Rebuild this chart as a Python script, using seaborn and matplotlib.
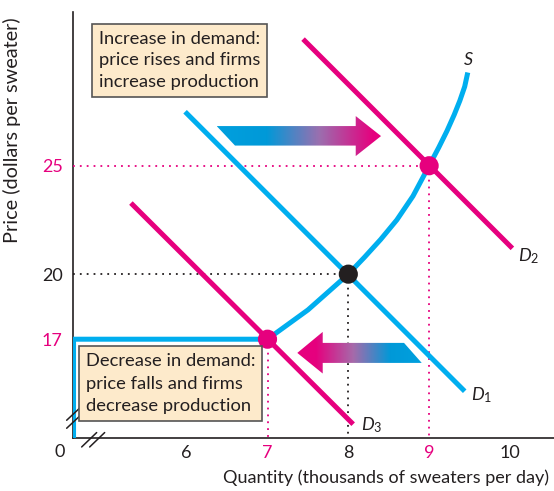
import numpy as np
import matplotlib
matplotlib.use("Agg")
import matplotlib.pyplot as plt
import seaborn as sns
from matplotlib.patches import Polygon
from matplotlib.colors import LinearSegmentedColormap

# ---- data ----
# quantity axis is broken: 4.6 stands in for the origin (quantity 0)
supply_q = [4.6, 4.6, 7.0, 7.5, 8.0, 8.2, 8.4, 8.6, 8.8, 9.0, 9.12, 9.22, 9.31, 9.38, 9.44, 9.478]
supply_p = [12.43, 17.0, 17.0, 18.35, 20.0, 20.78, 21.6, 22.5, 23.6, 25.0, 25.85, 26.6, 27.35,
            28.0, 28.65, 29.3]

d1_q = [5.98, 9.44]
d1_p = [27.49, 14.60]
d2_q = [7.44, 10.03]
d2_p = [30.84, 21.19]
d3_q = [5.31, 8.06]
d3_p = [23.28, 13.08]

eq_q = [8, 9, 7]
eq_p = [20, 25, 17]

x_ticks = [6, 7, 8, 9, 10]
y_ticks = [17, 20, 25]

CYAN = "#00AEEF"
MAGENTA = "#E6007E"
BLACK = "#231F20"
BOX = "#FDEACB"

sns.set_style("white")
plt.rcParams["font.family"] = ["Lato", "DejaVu Sans"]
plt.rcParams["mathtext.fontset"] = "custom"
plt.rcParams["mathtext.it"] = "Lato:italic"
plt.rcParams["mathtext.rm"] = "Lato"

fig = plt.figure(figsize=(5.54, 4.91), dpi=100)
ax = fig.add_axes([73.3 / 554, (491 - 438.3) / 491, (554 - 73.3) / 554, (438.3 - 12) / 491])
XMIN, XMAX, YMIN, YMAX = 4.597, 10.545, 12.43, 32.09


def px(x, y):
    # reference pixel -> data coords (for decorations only)
    return 6 + (x - 186.7) / 80.8, 20 + (274 - y) / 21.67


# dotted guide lines
dot = dict(lw=1.3, linestyle=(0, (1, 2.8)), zorder=1)
ax.plot([XMIN, 8], [20, 20], color=BLACK, **dot)
ax.plot([8, 8], [20, YMIN], color=BLACK, **dot)
ax.plot([XMIN, 9], [25, 25], color=MAGENTA, **dot)
ax.plot([9, 9], [25, YMIN], color=MAGENTA, **dot)
ax.plot([7, 7], [17, YMIN], color=MAGENTA, **dot)


# gradient arrows
def grad_arrow(pts, stops):
    pts = np.array([px(*p) for p in pts])
    poly = Polygon(pts, closed=True, facecolor="none", edgecolor="none")
    ax.add_patch(poly)
    cmap = LinearSegmentedColormap.from_list("g", stops)
    x0, x1 = pts[:, 0].min(), pts[:, 0].max()
    y0, y1 = pts[:, 1].min(), pts[:, 1].max()
    im = ax.imshow(np.linspace(0, 1, 256)[None, :], cmap=cmap, extent=[x0, x1, y0, y1],
                   aspect="auto", origin="lower", zorder=2, interpolation="bilinear")
    im.set_clip_path(poly)


grad_arrow([(216.7, 126), (355.7, 126), (355.7, 116), (381, 136), (355.7, 156),
            (355.7, 145.5), (235, 145.5)],
           [(0, "#00A0DE"), (0.3, "#0099D8"), (0.62, "#9B6FAF"), (0.95, MAGENTA), (1, MAGENTA)])
grad_arrow([(297.3, 352.7), (322.7, 331.7), (322.7, 342.7), (404, 342.7), (421.7, 362.7),
            (322.7, 362.7), (322.7, 373.3)],
           [(0, MAGENTA), (0.15, MAGENTA), (0.45, "#A66AAA"), (0.75, "#0099D8"), (1, "#00A0DE")])

# curves
lw = 3.6
line = dict(lw=lw, sort=False, estimator=None, solid_capstyle="butt", solid_joinstyle="round",
            zorder=3)
sns.lineplot(x=supply_q, y=supply_p, ax=ax, color=CYAN, **line)
sns.lineplot(x=d1_q, y=d1_p, ax=ax, color=CYAN, **line)
sns.lineplot(x=d2_q, y=d2_p, ax=ax, color=MAGENTA, **line)
sns.lineplot(x=d3_q, y=d3_p, ax=ax, color=MAGENTA, **line)
sns.scatterplot(x=eq_q, y=eq_p, ax=ax, hue=["a", "b", "c"],
                palette=[BLACK, MAGENTA, MAGENTA], s=190, linewidth=0, legend=False, zorder=4)

# curve labels
lab = dict(fontsize=13, color=BLACK, ha="center", va="center")
ax.text(*px(468, 59), "$S$", **lab)
ax.text(*px(529, 256), r"$D_\mathrm{2}$", **lab)
ax.text(*px(482, 395), r"$D_\mathrm{1}$", **lab)
ax.text(*px(372, 425), r"$D_\mathrm{3}$", **lab)

# axes
ax.set_xlim(XMIN, XMAX)
ax.set_ylim(YMIN, YMAX)
for s in ["top", "right"]:
    ax.spines[s].set_visible(False)
for s in ["left", "bottom"]:
    ax.spines[s].set_color(BLACK)
    ax.spines[s].set_linewidth(1.2)
    ax.spines[s].set_zorder(0.5)

ax.set_xticks(x_ticks)
ax.set_xticklabels([str(t) for t in x_ticks])
ax.set_yticks(y_ticks)
ax.set_yticklabels([str(t) for t in y_ticks])
ax.tick_params(axis="x", direction="in", length=6, width=1.2, color=BLACK, pad=5, labelsize=13)
ax.tick_params(axis="y", length=0, pad=7.5, labelsize=13)
for t, lbl, tk in zip(x_ticks, ax.get_xticklabels(), ax.xaxis.get_major_ticks()):
    lbl.set_color(MAGENTA if t in (7, 9) else BLACK)
    if t in (7, 8, 9):
        tk.tick1line.set_visible(False)
for t, lbl in zip(y_ticks, ax.get_yticklabels()):
    lbl.set_color(MAGENTA if t in (17, 25) else BLACK)

fig.text(60 / 554, 1 - 452 / 491, "0", fontsize=13, ha="center", va="center", color=BLACK)
fig.text(386 / 554, 1 - 478 / 491, "Quantity (thousands of sweaters per day)",
         fontsize=13, ha="center", va="center", color=BLACK)
fig.text(12 / 554, 1 - 130 / 491, "Price (dollars per sweater)", rotation=90,
         fontsize=14.3, ha="center", va="center", color=BLACK)

# text boxes
box = dict(boxstyle="square,pad=0.36", facecolor=BOX, edgecolor="#555555", linewidth=1.2)
fig.text(99 / 554, 1 - 31 / 491, "Increase in demand:\nprice rises and firms\nincrease production",
         fontsize=13.2, ha="left", va="top", color=BLACK, linespacing=1.42, bbox=box)
fig.text(86 / 554, 1 - 353 / 491, "Decrease in demand:\nprice falls and firms\ndecrease production",
         fontsize=13.2, ha="left", va="top", color=BLACK, linespacing=1.5, bbox=box)

# axis break marks
brk = dict(color=BLACK, lw=1.1, clip_on=False, zorder=6)
for dx in (0, 8):
    x0, y0 = px(66.7 + 0, 428 - dx)
    x1, y1 = px(81.7, 414 - dx)
    ax.plot([x0, x1], [y0, y1], **brk)
    x0, y0 = px(81.7 + dx, 446.7)
    x1, y1 = px(96.7 + dx, 432.3)
    ax.plot([x0, x1], [y0, y1], **brk)

fig.savefig("out.png", dpi=100)
